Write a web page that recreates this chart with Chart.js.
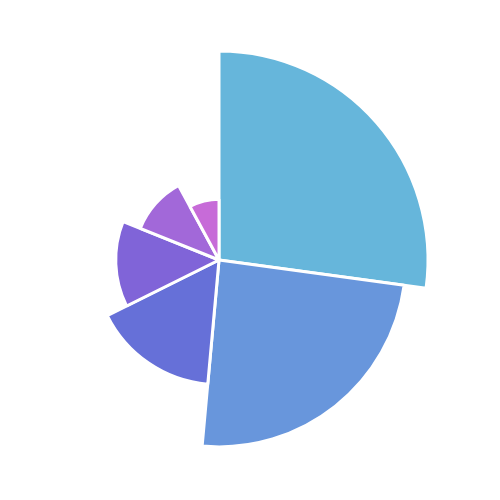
<!DOCTYPE html>
<html>
<head>
<meta charset="utf-8">
<script src="https://cdn.jsdelivr.net/npm/chart.js@4/dist/chart.umd.min.js"></script>
<style>
html,body{margin:0;padding:0;background:#fff;}
#wrap{width:500px;height:500px;}
</style>
</head>
<body>
<div id="wrap"><canvas id="c" width="500" height="500"></canvas></div>
<script>
const categories = ["A", "B", "C", "D", "E", "F"];
const values = [34, 30.4, 20.3, 16.8, 13.8, 9.9];
const colors = ["#66b6db", "#6896dc", "#6670d8", "#8064d8", "#a268d9", "#c76bd8"];

const total = values.reduce((a, b) => a + b, 0);

new Chart(document.getElementById('c'), {
  type: 'polarArea',
  data: {
    labels: categories,
    datasets: [{
      data: values,
      backgroundColor: colors,
      borderColor: '#ffffff',
      borderWidth: 3,
      angle: (ctx) => ctx.raw / total * 360
    }]
  },
  options: {
    responsive: false,
    animation: false,
    layout: { padding: { left: 10, top: 51, right: 72, bottom: 31 } },
    plugins: { legend: { display: false }, tooltip: { enabled: false } },
    scales: {
      r: {
        display: false,
        min: 0,
        max: 34,
        ticks: { display: false },
        grid: { display: false },
        pointLabels: { display: false }
      }
    }
  }
});
</script>
</body>
</html>
